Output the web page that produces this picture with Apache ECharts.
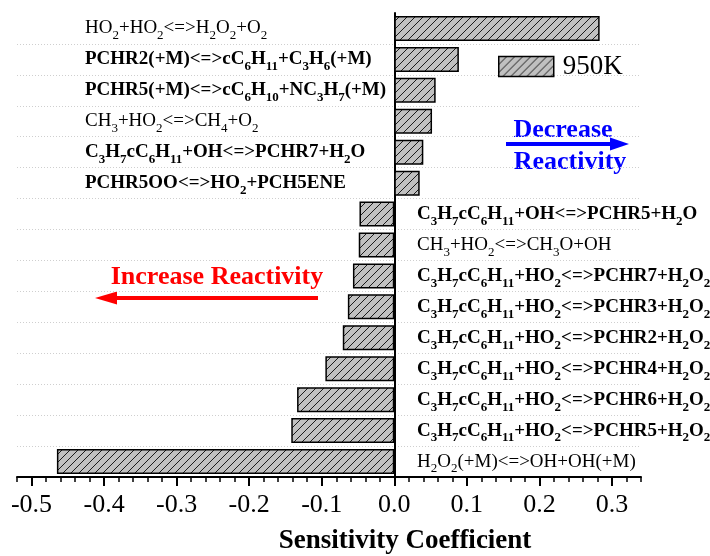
<!DOCTYPE html>
<html>
<head>
<meta charset="utf-8">
<script src="https://cdn.jsdelivr.net/npm/echarts@6/dist/echarts.min.js"></script>
<style>
  html, body { margin: 0; padding: 0; background: #fff; }
  #chart { width: 710px; height: 556px; }
</style>
</head>
<body>
<div id="chart"></div>
<script>
// reactions top -> bottom, "_n" marks a subscript
const reactions = [
  'HO_2+HO_2<=>H_2O_2+O_2',
  'PCHR2(+M)<=>cC_6H_11+C_3H_6(+M)',
  'PCHR5(+M)<=>cC_6H_10+NC_3H_7(+M)',
  'CH_3+HO_2<=>CH_4+O_2',
  'C_3H_7cC_6H_11+OH<=>PCHR7+H_2O',
  'PCHR5OO<=>HO_2+PCH5ENE',
  'C_3H_7cC_6H_11+OH<=>PCHR5+H_2O',
  'CH_3+HO_2<=>CH_3O+OH',
  'C_3H_7cC_6H_11+HO_2<=>PCHR7+H_2O_2',
  'C_3H_7cC_6H_11+HO_2<=>PCHR3+H_2O_2',
  'C_3H_7cC_6H_11+HO_2<=>PCHR2+H_2O_2',
  'C_3H_7cC_6H_11+HO_2<=>PCHR4+H_2O_2',
  'C_3H_7cC_6H_11+HO_2<=>PCHR6+H_2O_2',
  'C_3H_7cC_6H_11+HO_2<=>PCHR5+H_2O_2',
  'H_2O_2(+M)<=>OH+OH(+M)'
]
const boldLabels = [false, true, true, false, true, true, true, false, true, true, true, true, true, true, false]
const sensitivity = [0.283, 0.089, 0.057, 0.052, 0.040, 0.035, -0.048, -0.049, -0.057, -0.064, -0.071, -0.095, -0.134, -0.142, -0.465]
const xTicks = [-0.5, -0.4, -0.3, -0.2, -0.1, 0, 0.1, 0.2, 0.3]
const seriesName = '950K'
const leftCount = 6 // labels drawn on the left side

const serif = '"Liberation Serif", "Times New Roman", serif'

function toRich(text, bold) {
  const main = bold ? 'b' : 'n'
  const sub = bold ? 'bs' : 'ns'
  return text.split(/_(\d+)/)
    .map((part, i) => (part === '' ? '' : `{${i % 2 ? sub : main}|${part}}`))
    .join('')
}

const labelRich = {
  n: { fontFamily: serif, fontSize: 19, lineHeight: 28, color: '#000' },
  ns: { fontFamily: serif, fontSize: 13, lineHeight: 12, verticalAlign: 'bottom', color: '#000' },
  b: { fontFamily: serif, fontSize: 19, fontWeight: 'bold', lineHeight: 28, color: '#000' },
  bs: { fontFamily: serif, fontSize: 13, fontWeight: 'bold', lineHeight: 12, verticalAlign: 'bottom', color: '#000' }
}

function hatch() {
  const c = document.createElement('canvas')
  c.width = 8
  c.height = 8
  const ctx = c.getContext('2d')
  ctx.fillStyle = '#c0c0c0'
  ctx.fillRect(0, 0, 8, 8)
  ctx.strokeStyle = '#1a1a1a'
  ctx.lineWidth = 1
  ctx.beginPath()
  ctx.moveTo(-1, 9); ctx.lineTo(9, -1)
  ctx.moveTo(-1, 1); ctx.lineTo(1, -1)
  ctx.moveTo(7, 9); ctx.lineTo(9, 7)
  ctx.stroke()
  return c
}

const chart = echarts.init(document.getElementById('chart'), null, { renderer: 'canvas' })

chart.setOption({
  animation: false,
  grid: { left: 17, right: 69, top: 13, bottom: 79, containLabel: false, outerBoundsMode: 'none' },
  legend: {
    data: [seriesName],
    left: 498,
    top: 53,
    padding: 0,
    icon: 'rect',
    itemWidth: 55,
    itemHeight: 20,
    itemStyle: { borderWidth: 1.5 },
    textStyle: { fontFamily: serif, fontSize: 27, color: '#000', padding: [0, 0, 0, 4] }
  },
  xAxis: [
    {
      type: 'value',
      position: 'bottom',
      min: -0.52,
      max: 0.34,
      axisLine: { show: true, onZero: false, lineStyle: { color: '#000', width: 2 } },
      axisTick: { show: true, customValues: xTicks, length: 9, lineStyle: { color: '#000', width: 2 } },
      axisLabel: {
        customValues: xTicks,
        formatter: (v) => v.toFixed(1),
        margin: 15,
        fontFamily: serif,
        fontSize: 26,
        color: '#000'
      },
      splitLine: { show: false },
      name: 'Sensitivity Coefficient',
      nameLocation: 'middle',
      nameGap: 51,
      nameTextStyle: {
        fontFamily: serif,
        fontSize: 27,
        fontWeight: 'bold',
        color: '#000',
        padding: [0, 0, 0, 152]
      }
    },
    {
      // minor ticks, moved down onto the bottom axis line
      type: 'value',
      position: 'top',
      offset: -464,
      min: -0.52,
      max: 0.34,
      interval: 0.02,
      axisLine: { show: false, onZero: false },
      axisTick: { show: true, inside: true, length: 5, lineStyle: { color: '#000', width: 1.5 } },
      axisLabel: { show: false },
      splitLine: { show: false }
    }
  ],
  yAxis: [
    {
      type: 'category',
      data: reactions,
      inverse: true,
      position: 'left',
      axisLine: { onZero: true, lineStyle: { color: '#000', width: 2 } },
      axisTick: { length: 4, lineStyle: { color: '#000', width: 1.5 } },
      axisLabel: {
        inside: true,
        interval: 0,
        margin: 400,
        formatter: (v, i) => (i >= leftCount ? toRich(v, boldLabels[i]) : ''),
        rich: labelRich
      },
      splitLine: { show: true, showMinLine: false, lineStyle: { color: '#cfcfcf', type: [1, 2], width: 1 } }
    },
    {
      // left-hand labels, pulled in from the right edge
      type: 'category',
      data: reactions,
      inverse: true,
      position: 'right',
      offset: -564,
      axisLine: { show: false, onZero: false },
      axisTick: { show: false },
      axisLabel: {
        interval: 0,
        margin: 8,
        formatter: (v, i) => (i < leftCount ? toRich(v, boldLabels[i]) : ''),
        rich: labelRich
      },
      splitLine: { show: false }
    }
  ],
  series: [
    {
      name: seriesName,
      type: 'bar',
      xAxisIndex: 0,
      yAxisIndex: 0,
      data: sensitivity,
      barWidth: 25,
      silent: true,
      itemStyle: {
        color: { image: hatch(), repeat: 'repeat' },
        borderColor: '#000',
        borderWidth: 1.5
      }
    }
  ],
  graphic: [
    {
      type: 'text', x: 563, y: 130,
      style: { text: 'Decrease', font: 'bold 26px ' + serif, fill: '#0000ff', align: 'center', verticalAlign: 'middle' }
    },
    {
      type: 'text', x: 570, y: 162,
      style: { text: 'Reactivity', font: 'bold 26px ' + serif, fill: '#0000ff', align: 'center', verticalAlign: 'middle' }
    },
    { type: 'line', shape: { x1: 506, y1: 144, x2: 614, y2: 144 }, style: { stroke: '#0000ff', lineWidth: 4 } },
    { type: 'polygon', shape: { points: [[629, 144], [610, 137.5], [610, 150.5]] }, style: { fill: '#0000ff' } },
    {
      type: 'text', x: 217, y: 277,
      style: { text: 'Increase Reactivity', font: 'bold 26px ' + serif, fill: '#ff0000', align: 'center', verticalAlign: 'middle' }
    },
    { type: 'line', shape: { x1: 318, y1: 298, x2: 112, y2: 298 }, style: { stroke: '#ff0000', lineWidth: 4 } },
    { type: 'polygon', shape: { points: [[95, 298], [117, 291.5], [117, 304.5]] }, style: { fill: '#ff0000' } }
  ]
})
</script>
</body>
</html>
